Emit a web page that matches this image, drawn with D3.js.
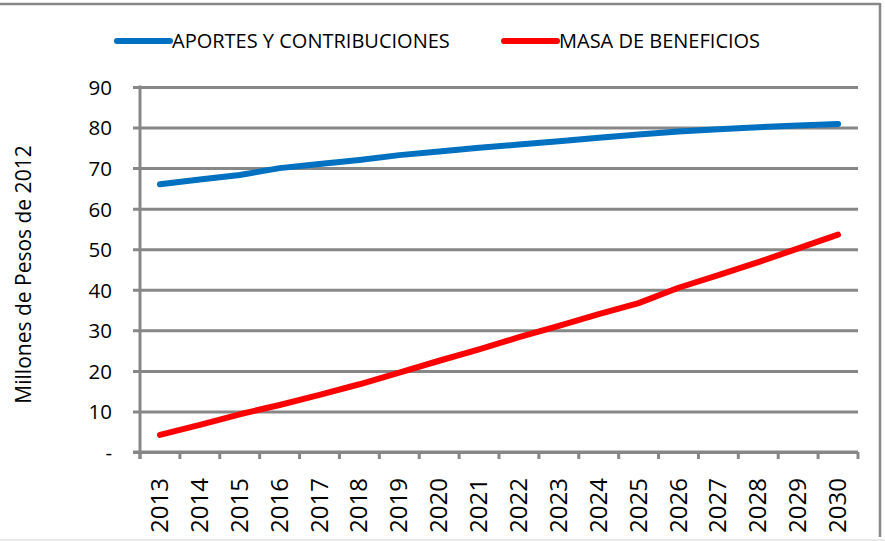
<!DOCTYPE html>
<html>
<head>
<meta charset="utf-8">
<script src="https://cdn.jsdelivr.net/npm/d3@7"></script>
<style>
  html, body { margin: 0; padding: 0; background: #fff; }
  svg text { font-family: "Open Sans", "Lato", sans-serif; fill: #000; }
</style>
</head>
<body>
<svg id="chart" width="885" height="541"></svg>
<script>
// Years on the category axis
const years = ["2013","2014","2015","2016","2017","2018","2019","2020","2021",
               "2022","2023","2024","2025","2026","2027","2028","2029","2030"];

// Millones de pesos de 2012
const aportes = [66.0, 67.2, 68.3, 70.0, 71.0, 72.0, 73.2, 74.1, 75.0,
                 75.8, 76.6, 77.5, 78.3, 79.0, 79.6, 80.1, 80.5, 80.9];
const beneficios = [4.2, 6.7, 9.3, 11.6, 14.1, 16.7, 19.6, 22.5, 25.3,
                    28.3, 31.1, 34.0, 36.7, 40.5, 43.6, 46.8, 50.2, 53.6];

const yTicks = [0, 10, 20, 30, 40, 50, 60, 70, 80, 90];

const series = [
  { name: "APORTES Y CONTRIBUCIONES", values: aportes, color: "#0070C0" },
  { name: "MASA DE BENEFICIOS", values: beneficios, color: "#FF0000" }
];

const svg = d3.select("#chart");
const gridColor = "#878787";

const plot = { left: 140, right: 858, top: 87, bottom: 452 };

const x = d3.scaleBand().domain(years).range([plot.left, plot.right]).padding(0);
const y = d3.scaleLinear().domain([0, 90]).range([plot.bottom, plot.top]);

// Outer frame: top and right edges, faint bottom edge
svg.append("line").attr("x1", 0).attr("x2", 880).attr("y1", 4).attr("y2", 4)
  .attr("stroke", gridColor).attr("stroke-width", 2.5);
svg.append("line").attr("x1", 880).attr("x2", 880).attr("y1", 3).attr("y2", 537)
  .attr("stroke", gridColor).attr("stroke-width", 2.5);
svg.append("line").attr("x1", 0).attr("x2", 885).attr("y1", 540).attr("y2", 540)
  .attr("stroke", "#e2e2e2").attr("stroke-width", 1.5);

// Horizontal gridlines with left tick marks
const yAxis = d3.axisLeft(y)
  .tickValues(yTicks)
  .tickSize(-(plot.right - plot.left))
  .tickPadding(28)
  .tickFormat(d => d === 0 ? "-" : d3.format("d")(d));

const gy = svg.append("g")
  .attr("transform", `translate(${plot.left},0)`)
  .call(yAxis);
gy.select(".domain").remove();
gy.selectAll(".tick line")
  .attr("x1", -7)
  .attr("stroke", gridColor)
  .attr("stroke-width", 3);
gy.selectAll(".tick text")
  .attr("font-size", 20.5)
  .attr("x", -28)
  .attr("dy", "0.36em");

// Vertical axis line
svg.append("line")
  .attr("x1", plot.left).attr("x2", plot.left)
  .attr("y1", plot.top - 1.5).attr("y2", plot.bottom + 7)
  .attr("stroke", gridColor).attr("stroke-width", 3);

// Category axis: ticks on band boundaries, rotated labels at band centres
const gx = svg.append("g").attr("transform", `translate(0,${plot.bottom})`);
gx.append("line")
  .attr("x1", plot.left - 7).attr("x2", plot.right)
  .attr("stroke", gridColor).attr("stroke-width", 3);
const boundaries = years.map(d => x(d)).concat([x(years[years.length - 1]) + x.bandwidth()]);
gx.selectAll("line.tick").data(boundaries).join("line")
  .attr("class", "tick")
  .attr("x1", d => d).attr("x2", d => d)
  .attr("y1", 0).attr("y2", 7)
  .attr("stroke", gridColor).attr("stroke-width", 3);
gx.selectAll("text").data(years).join("text")
  .attr("transform", d => `translate(${x(d) + x.bandwidth() / 2 + 8},26) rotate(-90)`)
  .attr("text-anchor", "end")
  .attr("font-size", 24)
  .text(d => d);

// Axis title
svg.append("text")
  .attr("transform", `translate(31,${(plot.top + plot.bottom) / 2 + 5}) rotate(-90)`)
  .attr("text-anchor", "middle")
  .attr("font-size", 21)
  .text("Millones de Pesos de 2012");

// Series lines
const line = d3.line()
  .x((d, i) => x(years[i]) + x.bandwidth() / 2)
  .y(d => y(d));

svg.selectAll("path.series").data(series).join("path")
  .attr("class", "series")
  .attr("d", d => line(d.values))
  .attr("fill", "none")
  .attr("stroke", d => d.color)
  .attr("stroke-width", 6)
  .attr("stroke-linecap", "round")
  .attr("stroke-linejoin", "round");

// Legend
const legendPos = [117, 504];
const legend = svg.selectAll("g.legend").data(series).join("g")
  .attr("class", "legend")
  .attr("transform", (d, i) => `translate(${legendPos[i]},41)`);
legend.append("line")
  .attr("x1", 0).attr("x2", 53)
  .attr("stroke", d => d.color)
  .attr("stroke-width", 6)
  .attr("stroke-linecap", "round");
legend.append("text")
  .attr("x", 55)
  .attr("y", 7)
  .attr("font-size", 20)
  .text(d => d.name);
</script>
</body>
</html>
